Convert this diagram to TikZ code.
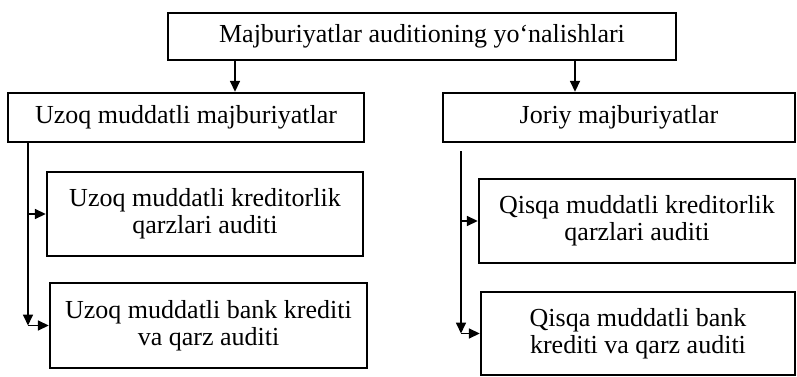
\documentclass[tikz,border=0pt]{standalone}
\usepackage{fontspec}
\setmainfont{Liberation Serif}
\usetikzlibrary{arrows.meta}

\begin{document}
\begin{tikzpicture}[x=1pt,y=-1pt,
  box/.style={draw=black, line width=2.4pt, fill=white, inner sep=0pt,
    align=center, font=\fontsize{26}{27}\selectfont},
  link/.style={draw=black, line width=1.7pt},
  arr/.style={link, -{Triangle[length=11pt,width=10pt]}}]
  \useasboundingbox (0,0) rectangle (797,377);

  % heading
  \node[box, minimum width=508pt, minimum height=47pt] (top) at (422,36.5)
    {Majburiyatlar auditioning yo‘nalishlari};

  % two groups of liabilities
  \node[box, minimum width=356pt, minimum height=49pt] (L) at (186,117.5)
    {Uzoq muddatli majburiyatlar};
  \node[box, minimum width=352pt, minimum height=49pt] (R) at (619,117.5)
    {Joriy majburiyatlar};

  % audit items, long-term
  \node[box, minimum width=316pt, minimum height=84pt] (LS1) at (205,214)
    {Uzoq muddatli kreditorlik\\qarzlari auditi};
  \node[box, minimum width=317pt, minimum height=85pt] (LS2) at (208.5,325.5)
    {Uzoq muddatli bank krediti\\va qarz auditi};

  % audit items, current
  \node[box, minimum width=316pt, minimum height=84pt] (RS1) at (637,221)
    {Qisqa muddatli kreditorlik\\qarzlari auditi};
  \node[box, minimum width=314pt, minimum height=83pt] (RS2) at (638,333.5)
    {Qisqa muddatli bank\\krediti va qarz auditi};

  % x positions of the vertical connectors
  \coordinate (ta) at (235,0);
  \coordinate (tb) at (575,0);
  \coordinate (lv) at (28,0);
  \coordinate (rv) at (461,0);

  % heading to groups
  \draw[arr] (top.south -| ta) -- (L.north -| ta);
  \draw[arr] (top.south -| tb) -- (R.north -| tb);

  % long-term branch
  \draw[arr] (L.south -| lv) -- (LS2.west -| lv);
  \draw[arr] (LS1.west -| lv) -- (LS1.west);
  \draw[arr] (LS2.west -| lv) -- (LS2.west);

  % current branch
  \draw[arr, shorten <=8pt] (R.south -| rv) -- (RS2.west -| rv);
  \draw[arr] (RS1.west -| rv) -- (RS1.west);
  \draw[arr] (RS2.west -| rv) -- (RS2.west);
\end{tikzpicture}
\end{document}
